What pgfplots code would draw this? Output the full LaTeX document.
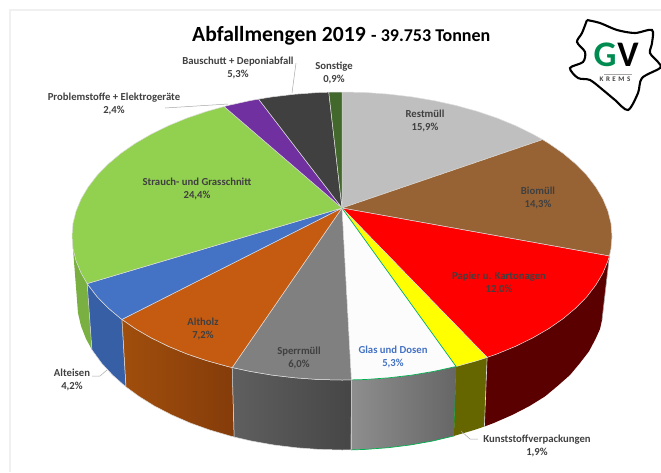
\documentclass[border=0pt]{standalone}
\usepackage{pgfplots}
\pgfplotsset{compat=1.18}
\usepackage{fontspec}
\setmainfont{Carlito}
\definecolor{cRest}{RGB}{191,191,191}
\definecolor{cBio}{RGB}{151,99,53}
\definecolor{cRed}{RGB}{255,0,0}
\definecolor{cRedS}{RGB}{90,0,0}
\definecolor{cYel}{RGB}{255,255,0}
\definecolor{cYelS}{RGB}{102,102,0}
\definecolor{cGlas}{RGB}{252,252,252}
\definecolor{cGreenL}{RGB}{0,176,80}
\definecolor{cSper}{RGB}{128,128,128}
\definecolor{cHolz}{RGB}{197,90,17}
\definecolor{cHolzL}{RGB}{160,78,12}
\definecolor{cHolzR}{RGB}{133,60,10}
\definecolor{cSpL}{RGB}{95,95,95}
\definecolor{cSpR}{RGB}{70,70,70}
\definecolor{cGlL}{RGB}{142,142,142}
\definecolor{cGlR}{RGB}{102,102,102}
\definecolor{cEis}{RGB}{68,114,196}
\definecolor{cEisS}{RGB}{55,95,165}
\definecolor{cStr}{RGB}{146,208,80}
\definecolor{cStrS}{RGB}{122,175,66}
\definecolor{cPur}{RGB}{112,48,160}
\definecolor{cBau}{RGB}{64,64,64}
\definecolor{cSon}{RGB}{67,104,43}
\definecolor{edge}{RGB}{222,222,222}
\definecolor{lab}{RGB}{64,64,64}
\definecolor{lead}{RGB}{166,166,166}
\definecolor{frame}{RGB}{240,240,240}
\definecolor{logoG}{RGB}{0,140,80}
\tikzset{lbl/.style={font=\bfseries\fontsize{10.7}{12.6}\selectfont,text=lab,align=center,inner sep=0pt}}
\begin{document}
\begin{tikzpicture}
\path[use as bounding box] (0,0) rectangle (661pt,472pt);
\begin{axis}[
  at={(0,0)},anchor=south west,
  scale only axis,width=661pt,height=472pt,
  xmin=0,xmax=661,ymin=0,ymax=472,y dir=reverse,
  hide axis,clip=false,
]
% frame
\addplot[frame,line width=1.2pt] coordinates {(661,10) (10,10) (10,472)};
% sides
\addplot[fill=cStrS,draw=none] coordinates {(87.2,283.6) (81.2,273.3) (76.1,261) (73,248.6) (72,236) (77,300) (78,313.1) (81,326) (86,338.8) (91.9,349.6)};
\addplot[fill=cEisS,draw=edge,line width=0.5pt] coordinates {(122,319.4) (120.8,318.6) (108.2,308) (97.3,296.9) (88.3,285.2) (87.2,283.6) (91.9,349.6) (93,351.3) (101.8,363.4) (112.5,375) (124.9,386) (126,386.9) (122,319.4)};
\addplot[left color=cHolzL,right color=cHolzR,draw=edge,line width=0.5pt] coordinates {(232.2,367.5) (227.9,366.5) (207,360.7) (187.1,354) (168.4,346.3) (151.1,337.8) (135.2,328.6) (122,319.4) (126,386.9) (139,396.4) (154.6,406.1) (171.7,414.9) (190,422.9) (209.5,429.9) (230,435.9) (234.2,437) (232.2,367.5)};
\addplot[left color=cSpL,right color=cSpR,draw=edge,line width=0.5pt] coordinates {(351.4,379.9) (342,380) (318.5,379.5) (295.1,377.8) (272.1,375.1) (249.7,371.3) (232.2,367.5) (234.2,437) (251.4,441) (273.4,444.9) (296,447.7) (318.9,449.4) (342,450) (351.2,449.9) (351.4,379.9)};
\addplot[left color=cGlL,right color=cGlR,draw=none] coordinates {(456.1,366.5) (434.3,371.3) (411.9,375.1) (388.9,377.8) (365.5,379.5) (351.4,379.9) (351.2,449.9) (365.1,449.4) (388,447.7) (410.6,444.9) (432.6,441) (454,435.9) (456.1,366.5)};
\addplot[edge,line width=0.6pt] coordinates {(351.4,379.9) (351.2,449.9)};
\addplot[cGreenL,line width=0.7pt] coordinates {(351.2,449.9) (365.1,449.4) (388,447.7) (410.6,444.9) (432.6,441) (454,435.9) (456.1,366.5)};
\addplot[fill=cYelS,draw=none] coordinates {(487.1,357.4) (477,360.7) (456.1,366.5) (454,435.9) (474.5,429.9) (484.4,426.5) (487.1,357.4)};
\addplot[fill=cRedS,draw=none] coordinates {(609.4,256) (607.9,261) (602.8,273.3) (595.7,285.2) (586.7,296.9) (575.8,308) (563.2,318.6) (548.8,328.6) (532.9,337.8) (515.6,346.3) (496.9,354) (487.1,357.4) (484.4,426.5) (494,422.9) (512.3,414.9) (529.4,406.1) (545,396.4) (557.5,386) (570,375) (580,363) (589,351.3) (595.5,339) (600,329) (602,320) (609.4,256)};
\addplot[edge,line width=0.6pt] coordinates {(487.1,357.4) (484.4,426.5)};
\addplot[lead,line width=0.6pt] coordinates {(612,236) (609.4,256) (602,320)};
% top face
\addplot[fill=cRest,draw=edge,line width=0.5pt] coordinates {(342,208) (342,92) (365.5,92.5) (388.9,94.2) (411.9,96.9) (434.3,100.7) (456.1,105.5) (477,111.3) (496.9,118) (515.6,125.7) (532.9,134.2) (542.6,139.6) (342,208)};
\addplot[fill=cBio,draw=edge,line width=0.5pt] coordinates {(342,208) (542.6,139.6) (548.8,143.4) (563.2,153.4) (575.8,164) (586.7,175.1) (595.7,186.8) (602.8,198.7) (607.9,211) (611,223.4) (612,236) (611,248.6) (609.4,256) (342,208)};
\addplot[fill=cRed,draw=edge,line width=0.5pt] coordinates {(342,208) (609.4,256) (607.9,261) (602.8,273.3) (595.7,285.2) (586.7,296.9) (575.8,308) (563.2,318.6) (548.8,328.6) (532.9,337.8) (515.6,346.3) (496.9,354) (487.1,357.4) (342,208)};
\addplot[fill=cYel,draw=edge,line width=0.5pt] coordinates {(342,208) (487.1,357.4) (477,360.7) (456.1,366.5) (342,208)};
\addplot[fill=cGlas,draw=none] coordinates {(342,208) (456.1,366.5) (434.3,371.3) (411.9,375.1) (388.9,377.8) (365.5,379.5) (351.4,379.9) (342,208)};
\addplot[cGreenL,line width=0.7pt] coordinates {(342,208) (456.1,366.5) (434.3,371.3) (411.9,375.1) (388.9,377.8) (365.5,379.5) (351.4,379.9)};
\addplot[fill=cSper,draw=edge,line width=0.5pt] coordinates {(342,208) (351.4,379.9) (342,380) (318.5,379.5) (295.1,377.8) (272.1,375.1) (249.7,371.3) (232.2,367.5) (342,208)};
\addplot[fill=cHolz,draw=edge,line width=0.5pt] coordinates {(342,208) (232.2,367.5) (227.9,366.5) (207,360.7) (187.1,354) (168.4,346.3) (151.1,337.8) (135.2,328.6) (122,319.4) (342,208)};
\addplot[fill=cEis,draw=edge,line width=0.5pt] coordinates {(342,208) (122,319.4) (120.8,318.6) (108.2,308) (97.3,296.9) (88.3,285.2) (87.2,283.6) (342,208)};
\addplot[fill=cStr,draw=edge,line width=0.5pt] coordinates {(342,208) (87.2,283.6) (81.2,273.3) (76.1,261) (73,248.6) (72,236) (73,223.4) (76.1,211) (81.2,198.7) (88.3,186.8) (97.3,175.1) (108.2,164) (120.8,153.4) (135.2,143.4) (151.1,134.2) (168.4,125.7) (187.1,118) (207,111.3) (224.1,106.5) (342,208)};
\addplot[fill=cPur,draw=edge,line width=0.5pt] coordinates {(342,208) (224.1,106.5) (227.9,105.5) (249.7,100.7) (258.6,99.1) (342,208)};
\addplot[fill=cBau,draw=edge,line width=0.5pt] coordinates {(342,208) (258.6,99.1) (272.1,96.9) (295.1,94.2) (318.5,92.5) (328.8,92.2) (342,208)};
\addplot[fill=cSon,draw=edge,line width=0.5pt] coordinates {(342,208) (328.8,92.2) (342,92) (342,208)};
% leaders
\addplot[lead,line width=0.5pt] coordinates {(92,376) (100,376) (107,370)};
\addplot[lead,line width=0.5pt] coordinates {(478,439) (470,439) (461,431)};
\addplot[lead,line width=0.5pt] coordinates {(296,63) (292,93)};
\addplot[lead,line width=0.5pt] coordinates {(165,108) (228,104)};
% logo
\addplot[black,line width=2.1pt,smooth] coordinates {(587,20) (600,23) (617,30) (635,33) (652,30) (652,43) (650,53) (658,62) (660,68) (642,78) (638,93) (628,110) (615,100) (603,90) (590,80) (578,78) (570,68) (583,62) (585,52) (577,42) (582,33) (587,20)};
\addplot[lead,line width=0.4pt] coordinates {(604,74) (632,74)};
\node[font=\bfseries\fontsize{36}{36}\selectfont,text=logoG,inner sep=0pt] at (axis cs:605,55) {G};
\node[font=\bfseries\fontsize{36}{36}\selectfont,text=black,inner sep=0pt] at (axis cs:628,55) {V};
\node[font=\bfseries\fontsize{7}{8}\selectfont,text=lab,inner sep=0pt] at (axis cs:615,79.5) {K\hspace{2.5pt}R\hspace{2.5pt}E\hspace{2.5pt}M\hspace{2.5pt}S};
% title
\node[font=\bfseries\fontsize{21.6}{26}\selectfont,text=black,inner sep=0pt,anchor=base west] at (axis cs:192,41) {Abfallmengen 2019};
\node[font=\bfseries\fontsize{18}{20}\selectfont,text=black,inner sep=0pt,anchor=base west] at (axis cs:371,41) {- 39.753 Tonnen};
% labels
\node[lbl] at (axis cs:425,121) {Restmüll\\15,9\%};
\node[lbl] at (axis cs:538,198) {Biomüll\\14,3\%};
\node[lbl] at (axis cs:499,283) {Papier u. Kartonagen\\12,0\%};
\node[lbl] at (axis cs:197,189) {Strauch- und Grasschnitt\\24,4\%};
\node[lbl] at (axis cs:114,104) {Problemstoffe + Elektrogeräte\\2,4\%};
\node[lbl] at (axis cs:238,68) {Bauschutt + Deponiabfall\\5,3\%};
\node[lbl] at (axis cs:334,73) {Sonstige\\0,9\%};
\node[lbl] at (axis cs:203,329) {Altholz\\7,2\%};
\node[lbl] at (axis cs:299,358) {Sperrmüll\\6,0\%};
\node[lbl,text=cEis] at (axis cs:393,357) {Glas und Dosen\\5,3\%};
\node[lbl] at (axis cs:72,380) {Alteisen\\4,2\%};
\node[lbl] at (axis cs:537,446) {Kunststoffverpackungen\\1,9\%};
\end{axis}
\end{tikzpicture}
\end{document}
